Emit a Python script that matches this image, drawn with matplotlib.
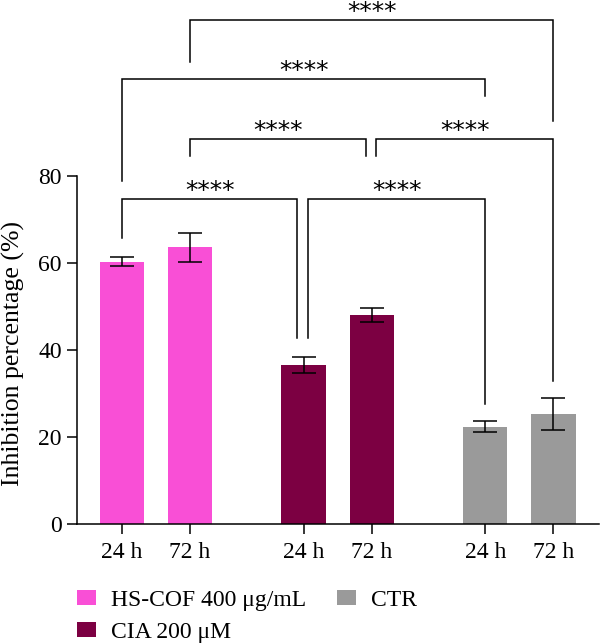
import matplotlib
matplotlib.use('Agg')
import matplotlib.pyplot as plt
from matplotlib.patches import Patch

# data
groups = ['HS-COF 400 μg/mL', 'CIA 200 μM', 'CTR']
times = ['24 h', '72 h']
colors = ['#F94FD6', '#7C0042', '#9A9A9A']
hs_mean = [60.3, 63.6]
hs_err = [1.1, 3.3]
cia_mean = [36.6, 48.0]
cia_err = [1.8, 1.6]
ctr_mean = [22.4, 25.2]
ctr_err = [1.3, 3.7]

# significance brackets: (bar a, bar b, level, leg a bottom, leg b bottom, shift a, shift b)
comparisons = [
    (0, 2, 74.7, 65.7, 42.8, 0.0, -0.09),
    (2, 4, 74.7, 42.8, 27.6, 0.07, 0.0),
    (1, 3, 88.5, 84.6, 84.6, 0.0, -0.09),
    (3, 5, 88.5, 84.6, 32.9, 0.07, 0.0),
    (0, 4, 102.3, 78.9, 98.4, 0.0, 0.0),
    (1, 5, 115.9, 106.3, 92.6, 0.0, 0.0),
]
stars = '****'

means = [hs_mean, cia_mean, ctr_mean]
errs = [hs_err, cia_err, ctr_err]

plt.rcParams['font.family'] = ['Liberation Serif', 'DejaVu Serif']

fig = plt.figure(figsize=(6.0, 6.44), dpi=100)
ax = fig.add_axes([0.1283, 0.1863, 0.87, 0.5404])

group_gap = 2.67
xpos = []
for g in range(len(groups)):
    xs = [g * group_gap + t for t in range(len(times))]
    xpos.extend(xs)
    ax.bar(xs, means[g], width=0.65, color=colors[g], zorder=2)
    ax.errorbar(xs, means[g], yerr=errs[g], fmt='none', ecolor='black',
                elinewidth=1.1, capsize=8.5, capthick=1.1, zorder=3)

for a, b, level, la, lb, sa, sb in comparisons:
    x1 = xpos[a] + sa
    x2 = xpos[b] + sb
    ax.plot([x1, x1, x2, x2], [la, level, level, lb], color='black', lw=1.1,
            clip_on=False, solid_joinstyle='miter', zorder=4)
    ax.text((x1 + x2) / 2, level + 0.2, stars, ha='center', va='baseline',
            fontsize=18, family='DejaVu Sans', clip_on=False)

ax.set_xlim(-0.66, 7.01)
ax.set_ylim(0, 80)
ax.set_xticks(xpos)
ax.set_xticklabels(times * len(groups))
ax.set_yticks([0, 20, 40, 60, 80])
ax.set_ylabel('Inhibition percentage (%)', fontsize=18.5)
ax.yaxis.set_label_coords(-0.1, 0.49)
ax.tick_params(axis='both', labelsize=17, width=1.1, length=7)
ax.tick_params(axis='y', pad=4)
ax.tick_params(axis='x', pad=6)
for side in ['top', 'right']:
    ax.spines[side].set_visible(False)
for side in ['left', 'bottom']:
    ax.spines[side].set_linewidth(1.1)

handles = [Patch(facecolor=c, edgecolor='none') for c in colors]
fig.legend(handles, groups, ncol=2, loc='upper left',
           bbox_to_anchor=(0.128, 0.084), frameon=False, fontsize=17,
           handlelength=0.8, handleheight=0.6, handletextpad=0.65,
           columnspacing=1.3, labelspacing=0.45, borderpad=0, borderaxespad=0)

fig.savefig('out.png', dpi=100)
